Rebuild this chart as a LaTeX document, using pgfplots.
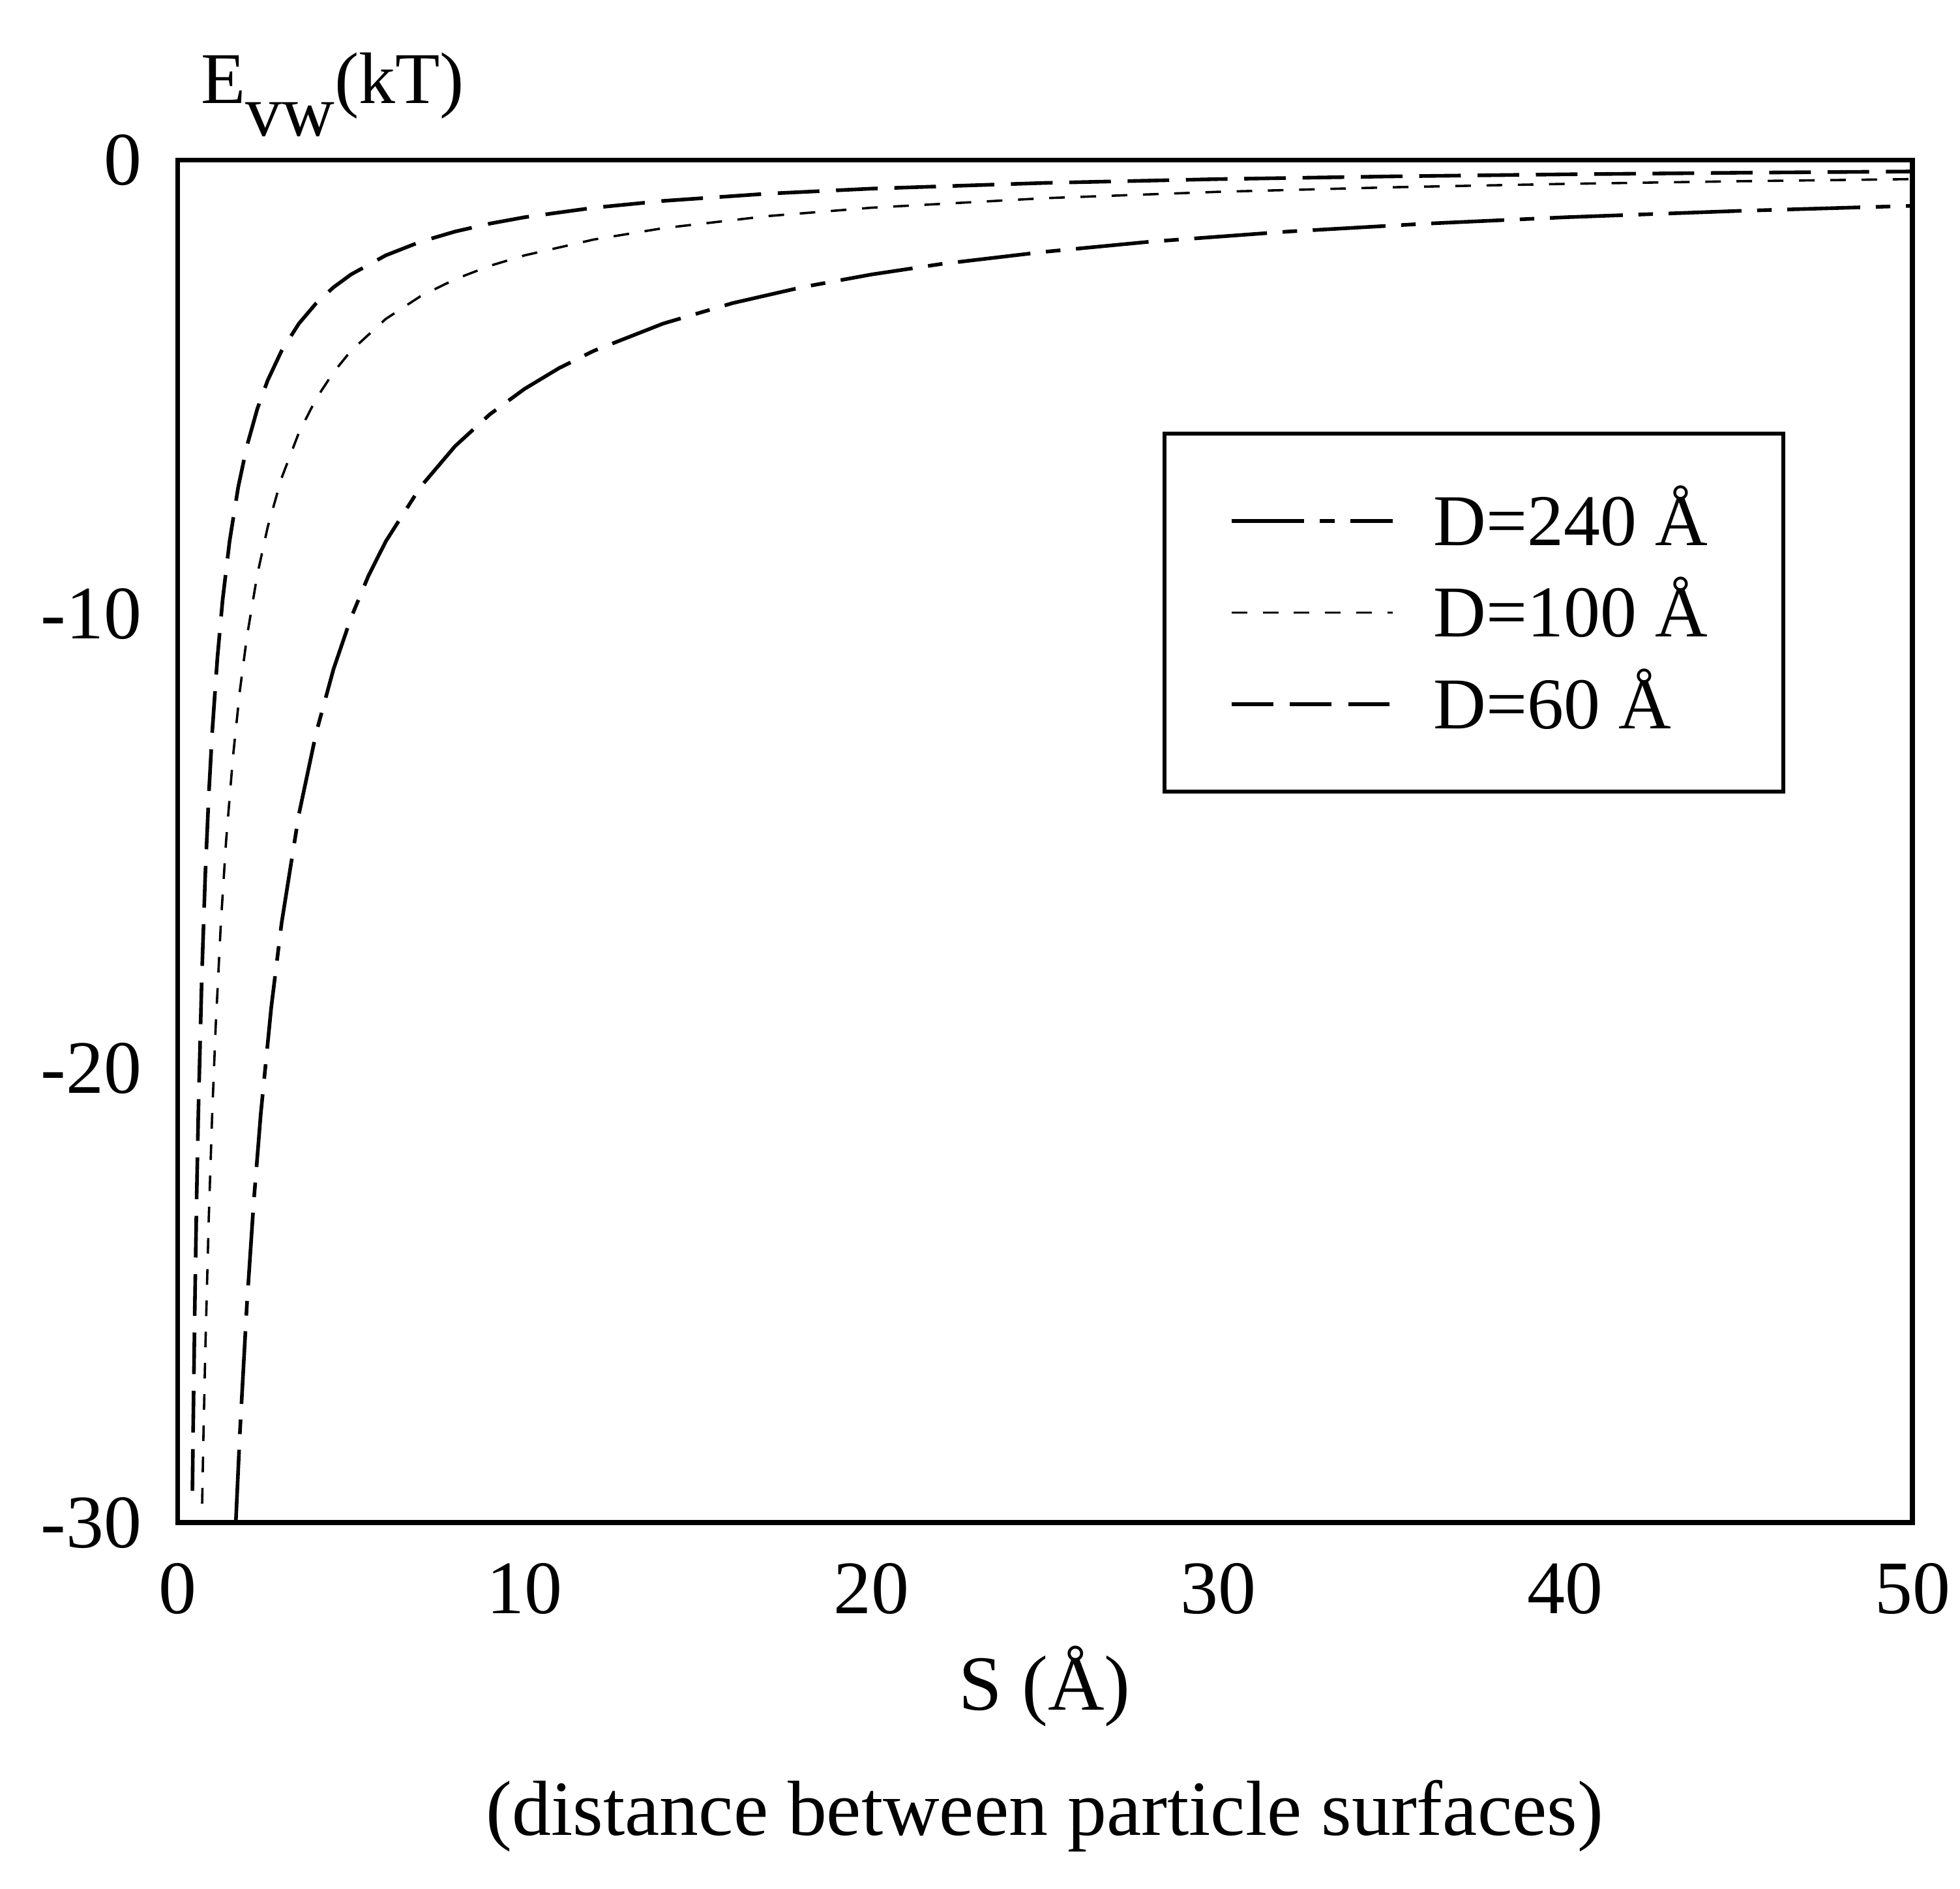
\documentclass[border=0pt]{standalone}
\usepackage{fontspec}
\setmainfont{Liberation Serif}
\usepackage{pgfplots}
\pgfplotsset{compat=1.18}
\begin{document}
\fontsize{14}{16.8}\selectfont
\begin{tikzpicture}
\path[use as bounding box] (-34.08pt,-70.32pt) rectangle (342.24pt,292.32pt);
\begin{axis}[
  at={(0pt,0pt)}, anchor=south west,
  scale only axis, width=333.1pt, height=261.6pt,
  xmin=0, xmax=50, ymin=-30, ymax=0,
  xtick={0,10,20,30,40,50}, ytick={-30,-20,-10,0},
  xticklabels={0,10,20,30,40,50}, yticklabels={-30,-20,-10,0},
  major tick length=0pt,
  axis line style={line width=0.9pt},
  tick label style={font=\fontsize{14.5}{17}\selectfont},
  xticklabel style={yshift=-3pt},
  yticklabel style={xshift=-2pt},
  legend cell align=left,
  legend image code/.code={\draw[#1] (0pt,0pt) -- (31pt,0pt);},
  legend style={at={(rel axis cs:0.5677,0.8008)}, anchor=north west,
    draw=black, line width=0.8pt, inner xsep=12.5pt, inner ysep=8pt,
    font=\fontsize{14}{17}\selectfont, row sep=0pt,
    /tikz/every odd column/.style={column sep=5.5pt}},
]
\addplot[black, line width=0.7pt, dash pattern=on 14pt off 3pt on 2.8pt off 3pt] coordinates {
(1.68,-30.0) (1.8,-28.0) (2.0,-25.2) (2.2,-22.91) (2.4,-21.0) (2.7,-18.67)
(3.0,-16.8) (3.5,-14.4) (4.0,-12.6) (4.5,-11.2) (5.0,-10.08) (5.5,-9.16)
(6.0,-8.4) (7.0,-7.2) (8.0,-6.3) (9.0,-5.6) (10,-5.04) (11,-4.58) (12,-4.2)
(14,-3.6) (16,-3.15) (18,-2.8) (20,-2.52) (22,-2.29) (25,-2.02) (28,-1.8)
(32,-1.575) (36,-1.4) (40,-1.26) (45,-1.12) (50,-1.008)};
\addlegendentry{D=240 Å}
\addplot[black, line width=0.45pt, dash pattern=on 3pt off 3pt] coordinates {
(0.71,-29.58) (0.75,-28.0) (0.8,-26.25) (0.9,-23.33) (1.0,-21.0) (1.1,-19.09)
(1.25,-16.8) (1.4,-15.0) (1.6,-13.13) (1.8,-11.67) (2.0,-10.5) (2.3,-9.13)
(2.6,-8.08) (3.0,-7.0) (3.5,-6.0) (4.0,-5.25) (4.5,-4.67) (5.0,-4.2) (6.0,-3.5)
(7.0,-3.0) (8.0,-2.625) (9.0,-2.33) (10,-2.1) (12,-1.75) (14,-1.5) (17,-1.235)
(20,-1.05) (25,-0.84) (30,-0.70) (35,-0.60) (40,-0.525) (45,-0.467) (50,-0.42)};
\addlegendentry{D=100 Å}
\addplot[black, line width=0.7pt, dash pattern=on 8pt off 3.2pt] coordinates {
(0.43,-29.3) (0.45,-28.0) (0.5,-25.2) (0.55,-22.91) (0.6,-21.0) (0.7,-18.0)
(0.8,-15.75) (0.9,-14.0) (1.0,-12.6) (1.15,-10.96) (1.3,-9.69) (1.5,-8.4)
(1.75,-7.2) (2.0,-6.3) (2.3,-5.48) (2.6,-4.85) (3.0,-4.2) (3.5,-3.6) (4.0,-3.15)
(4.5,-2.8) (5.0,-2.52) (6.0,-2.1) (7.0,-1.8) (8.0,-1.575) (9.0,-1.4) (10,-1.26)
(12,-1.05) (14,-0.9) (17,-0.741) (20,-0.63) (25,-0.504) (30,-0.42) (35,-0.36)
(40,-0.315) (45,-0.28) (50,-0.252)};
\addlegendentry{D=60 Å}
\end{axis}
\node[anchor=base west, inner sep=0pt] at (4.3pt,272.5pt) {E\raisebox{-0.45em}{vw}(kT)};
\node[anchor=base, inner sep=0pt, font=\fontsize{15}{18}\selectfont] at (166.5pt,-36pt) {S (Å)};
\node[anchor=base, inner sep=0pt, font=\fontsize{15}{18}\selectfont] at (166.5pt,-60pt) {(distance between particle surfaces)};
\end{tikzpicture}
\end{document}
